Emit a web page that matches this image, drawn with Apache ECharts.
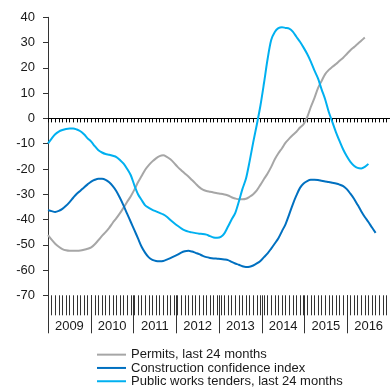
<!DOCTYPE html>
<html><head><meta charset="utf-8">
<script src="https://cdn.jsdelivr.net/npm/echarts@6/dist/echarts.min.js"></script>
<style>html,body{margin:0;padding:0;background:#fff}#c{width:390px;height:389px}</style>
</head><body><div id="c"></div>
<script>
const years = ['2009','2010','2011','2012','2013','2014','2015','2016'];
const seriesNames = ['Permits, last 24 months','Construction confidence index','Public works tenders, last 24 months'];

// monthly values, starting January 2009
const permits = [
 -46.2,-48,-49.6,-50.8,-51.7,-52.2,-52.4,-52.4,-52.4,-52.3,-52,-51.6,
 -51,-49.8,-48.2,-46.5,-45,-43.3,-41.3,-39.5,-37.5,-35.3,-33,-30.8,
 -28.2,-25.3,-22.8,-20.3,-18.5,-17,-15.8,-14.9,-14.6,-15.2,-16.2,-17.6,
 -19.2,-20.5,-21.8,-23,-24.4,-25.8,-27.2,-28.2,-28.7,-29,-29.3,-29.6,
 -29.8,-30.1,-30.5,-31.2,-31.7,-32,-32,-31.8,-31,-30,-28.5,-26.3,
 -24,-21.8,-19.2,-16.2,-13.8,-11.8,-9.6,-8,-6.6,-5.3,-3.6,-2.3,
 0.5,4.5,8,12,14.8,17.5,19.2,20.4,21.5,22.8,24,25.5,
 27,28.2,29.4,30.7,32
];
const confidence = [
 -36.3,-36.7,-37,-36.6,-35.8,-34.6,-33.1,-31.4,-29.8,-28.6,-27.3,-26.1,
 -25,-24.3,-23.9,-23.9,-24.3,-25.3,-26.8,-28.8,-31.5,-34.5,-37.8,-41,
 -44.2,-47.5,-50.8,-53.2,-55,-56,-56.4,-56.5,-56.4,-55.9,-55.3,-54.6,
 -53.9,-53.1,-52.6,-52.4,-52.7,-53.2,-53.7,-54.4,-54.9,-55.2,-55.4,-55.5,
 -55.6,-55.8,-56.1,-56.8,-57.4,-57.9,-58.5,-58.8,-58.7,-58.2,-57.4,-56.4,
 -54.9,-53.4,-51.5,-49.5,-47.4,-44.6,-41.8,-38,-34,-30.5,-27.5,-25.8,
 -24.8,-24.3,-24.3,-24.4,-24.7,-25,-25.2,-25.5,-25.8,-26.2,-26.8,-28,
 -29.8,-31.8,-34.2,-36.7,-39,-41,-43.2,-45.3
];
const tenders = [
 -9.9,-8,-6.3,-5.2,-4.6,-4.2,-4.0,-4.0,-4.4,-5.1,-6.3,-7.9,
 -9.2,-11,-12.6,-13.5,-14.1,-14.4,-14.8,-15.3,-16.5,-17.9,-20,-22.5,
 -26.5,-30,-32.3,-34.4,-35.4,-36.2,-36.8,-37.4,-38,-38.9,-40.2,-41.4,
 -42.5,-43.5,-44.3,-44.8,-45.1,-45.4,-45.6,-45.7,-46,-46.6,-47.1,-47.2,
 -46.9,-45.5,-42.8,-40,-37.5,-33,-28,-23.8,-17,-9.5,-2.5,5,
 14,23.5,31,34.2,35.7,36.1,35.8,35.5,34.3,32.3,30.3,28,
 25.5,22.5,19,15.8,11.5,7.5,2.5,-1.5,-5.5,-9,-12.3,-15,
 -17.2,-18.7,-19.6,-19.8,-19.2,-18
];

const months = [];
years.forEach(y => { for (let m = 1; m <= 12; m++) months.push(y + '-' + (m < 10 ? '0' + m : m)); });

const FONT = '"Liberation Sans", Arial, sans-serif';
const AX = '#333';
const TXT = '#1a1a1a';

const chart = echarts.init(document.getElementById('c'), null, {renderer: 'canvas'});
chart.setOption({
  animation: false,
  backgroundColor: '#fff',
  textStyle: {fontFamily: FONT},
  grid: {left: 48, width: 343, top: 17.3, bottom: 93.7, containLabel: false},
  legend: {
    orient: 'vertical', left: 92, top: 343, height: 80,
    icon: 'rect', itemWidth: 29, itemHeight: 2, itemGap: 0,
    textStyle: {fontFamily: FONT, fontSize: 13, color: TXT, lineHeight: 13.3},
    data: seriesNames
  },
  xAxis: [
    {
      type: 'category', data: months, boundaryGap: false,
      axisLine: {onZero: true, lineStyle: {color: '#000', width: 1}},
      axisTick: {show: true, interval: 0, length: 4, lineStyle: {color: '#000'}},
      axisLabel: {show: false}, splitLine: {show: false}
    },
    {
      type: 'category', data: months, boundaryGap: false, position: 'bottom',
      axisLine: {show: false, onZero: false},
      axisTick: {show: true, interval: 0, length: 20, lineStyle: {color: AX}},
      axisLabel: {show: false}, splitLine: {show: false}
    },
    {
      type: 'category', data: years, boundaryGap: true, position: 'bottom',
      axisLine: {show: false, onZero: false},
      axisTick: {show: true, interval: 0, length: 38, lineStyle: {color: AX}},
      axisLabel: {interval: 0, margin: 25, fontSize: 13, color: TXT, fontFamily: FONT},
      splitLine: {show: false}
    }
  ],
  yAxis: {
    type: 'value', min: -70, max: 40, interval: 10,
    axisLine: {show: true, lineStyle: {color: AX, width: 1}},
    axisTick: {show: true, length: 5, lineStyle: {color: AX}},
    axisLabel: {margin: 13, fontSize: 13, color: TXT, fontFamily: FONT},
    splitLine: {show: false}
  },
  series: [
    {name: seriesNames[0], type: 'line', data: permits, xAxisIndex: 0, symbol: 'none', smooth: 0.3,
     lineStyle: {color: '#a6a6a6', width: 2}, itemStyle: {color: '#a6a6a6'}},
    {name: seriesNames[1], type: 'line', data: confidence, xAxisIndex: 0, symbol: 'none', smooth: 0.3,
     lineStyle: {color: '#0070c0', width: 2}, itemStyle: {color: '#0070c0'}},
    {name: seriesNames[2], type: 'line', data: tenders, xAxisIndex: 0, symbol: 'none', smooth: 0.3,
     lineStyle: {color: '#00b0f0', width: 2}, itemStyle: {color: '#00b0f0'}}
  ]
});
</script></body></html>
